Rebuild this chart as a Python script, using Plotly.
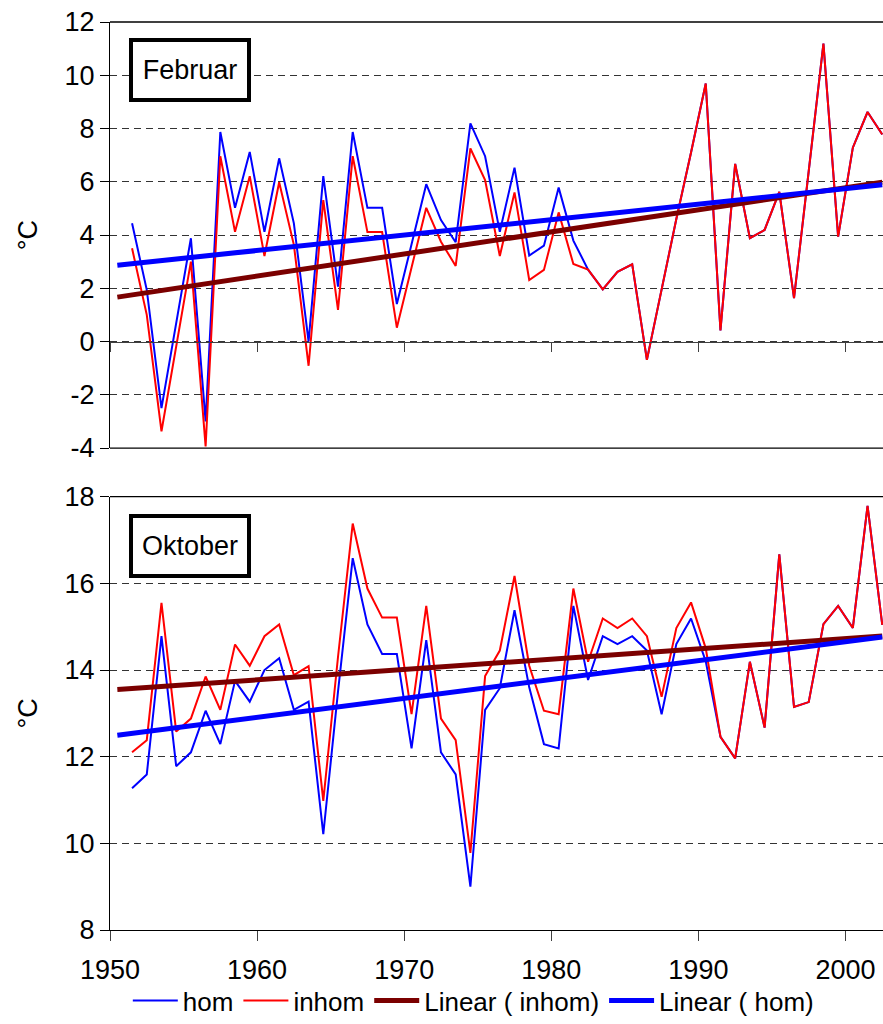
import numpy as np
import plotly.graph_objects as go

years = list(range(1951, 2003))

feb_hom = [4.44, 1.94, -2.50, 0.70, 3.88, -3.00, 7.87, 5.02, 7.12, 4.12,
           6.88, 4.44, 0.00, 6.21, 2.06, 7.87, 5.02, 5.02, 1.41, 3.65,
           5.91, 4.56, 3.73, 8.19, 6.96, 4.12, 6.53, 3.23, 3.60, 5.78,
           3.79, 2.70, 1.96, 2.62, 2.90, -0.69, 2.00, 4.60, 7.10, 9.69,
           0.42, 6.67, 3.88, 4.19, 5.62, 1.63, 6.40, 11.19, 3.94, 7.28,
           8.62, 7.78]
feb_inhom = [3.50, 1.00, -3.37, -0.20, 3.00, -3.94, 6.96, 4.12, 6.21, 3.21,
             5.98, 3.63, -0.91, 5.31, 1.19, 6.96, 4.11, 4.11, 0.52, 2.78,
             5.02, 3.75, 2.84, 7.25, 6.06, 3.21, 5.60, 2.31, 2.69, 4.85,
             2.91, 2.70, 1.96, 2.62, 2.90, -0.69, 2.00, 4.60, 7.10, 9.69,
             0.42, 6.67, 3.88, 4.19, 5.62, 1.63, 6.40, 11.19, 3.94, 7.28,
             8.62, 7.78]
oct_hom = [11.27, 11.59, 14.78, 11.78, 12.10, 13.06, 12.29, 13.75, 13.27, 14.00,
           14.27, 13.08, 13.27, 10.21, 13.50, 16.58, 15.05, 14.37, 14.37, 12.19,
           14.69, 12.10, 11.59, 9.00, 13.08, 13.58, 15.38, 13.60, 12.29, 12.19,
           15.48, 13.77, 14.78, 14.60, 14.78, 14.45, 12.98, 14.60, 15.19, 14.20,
           12.46, 11.96, 14.19, 12.67, 16.67, 13.15, 13.26, 15.06, 15.48, 14.97,
           17.79, 15.04]
oct_inhom = [12.10, 12.38, 15.55, 12.58, 12.88, 13.85, 13.08, 14.59, 14.10, 14.78,
             15.05, 13.88, 14.09, 10.98, 14.30, 17.38, 15.88, 15.21, 15.21, 12.98,
             15.48, 12.88, 12.38, 9.78, 13.86, 14.45, 16.17, 14.10, 13.06, 12.98,
             15.88, 14.19, 15.19, 14.97, 15.19, 14.78, 13.38, 14.97, 15.56, 14.50,
             12.46, 11.96, 14.19, 12.67, 16.67, 13.15, 13.26, 15.06, 15.48, 14.97,
             17.79, 15.04]

tick_labels = ["1950", "1960", "1970", "1980", "1990", "2000"]
feb_yticks = ["-4", "-2", "0", "2", "4", "6", "8", "10", "12"]
oct_yticks = ["8", "10", "12", "14", "16", "18"]
panel_titles = ["Februar", "Oktober"]
series_names = ["hom", "inhom", "Linear ( inhom)", "Linear ( hom)"]
y_label = "°C"

FONT = "Liberation Sans, Arial, sans-serif"
FS = 27
BLUE = "#0000FF"
RED = "#FF0000"
BROWN = "#7B0000"

yr = np.array(years, dtype=float)
trend_x = np.array([yr[0] - 1, yr[-1]])

def trend(vals):
    k, d = np.polyfit(yr, np.array(vals), 1)
    return k * trend_x + d

fig = go.Figure()

panels = [
    ("x", "y", feb_hom, feb_inhom, True),
    ("x2", "y2", oct_hom, oct_inhom, False),
]
for xa, ya, hom, inhom, leg in panels:
    fig.add_trace(go.Scatter(x=years, y=hom, mode="lines", name=series_names[0],
                             line=dict(color=BLUE, width=2), xaxis=xa, yaxis=ya,
                             showlegend=leg))
    fig.add_trace(go.Scatter(x=years, y=inhom, mode="lines", name=series_names[1],
                             line=dict(color=RED, width=2), xaxis=xa, yaxis=ya,
                             showlegend=leg))
    fig.add_trace(go.Scatter(x=trend_x, y=trend(inhom), mode="lines", name=series_names[2],
                             line=dict(color=BROWN, width=5), xaxis=xa, yaxis=ya,
                             showlegend=leg))
    fig.add_trace(go.Scatter(x=trend_x, y=trend(hom), mode="lines", name=series_names[3],
                             line=dict(color=BLUE, width=5), xaxis=xa, yaxis=ya,
                             showlegend=leg))

top_dom = [0.5308, 1.0]
bot_dom = [0.0, 0.4772]
top_range = [float(feb_yticks[0]), float(feb_yticks[-1])]
bot_range = [float(oct_yticks[0]), float(oct_yticks[-1])]
zero_pos = top_dom[0] + (0 - top_range[0]) / (top_range[1] - top_range[0]) * (top_dom[1] - top_dom[0])

tickvals = [int(t) - 0.5 for t in tick_labels]
xrange = [1949.5, 2002.05]

common_y = dict(showline=True, linecolor="black", linewidth=1.3, ticks="outside",
                ticklen=9, tickcolor="black", tickwidth=1.3, showgrid=True,
                gridcolor="#333333", gridwidth=1, griddash="7px,5px", zeroline=False,
                tickmode="array",
                tickfont=dict(family=FONT, size=FS, color="black"),
                title=dict(text=y_label, font=dict(family=FONT, size=FS, color="black"),
                           standoff=18))

fig.update_layout(
    width=883, height=1024,
    margin=dict(l=110, r=0, t=22, b=94, autoexpand=False),
    paper_bgcolor="white", plot_bgcolor="white",
    font=dict(family=FONT, size=FS, color="black"),
    xaxis=dict(domain=[0, 1], range=xrange, anchor="free", position=zero_pos,
               showline=True, linecolor="#404040", linewidth=1.3,
               tickmode="array", tickvals=tickvals, ticktext=tick_labels,
               showticklabels=False, ticks="outside", ticklen=9, tickcolor="#404040",
               tickwidth=1.3, showgrid=False, zeroline=False),
    xaxis2=dict(domain=[0, 1], range=xrange, anchor="y2",
                showline=True, linecolor="black", linewidth=1.3,
                tickmode="array", tickvals=tickvals, ticktext=tick_labels,
                ticks="outside", ticklen=10, tickcolor="#404040", tickwidth=1.3,
                ticklabelstandoff=5,
                tickfont=dict(family=FONT, size=FS, color="black"),
                showgrid=False, zeroline=False),
    yaxis=dict(domain=top_dom, range=top_range, anchor="x",
               tickvals=[float(t) for t in feb_yticks], ticktext=feb_yticks, **common_y),
    yaxis2=dict(domain=bot_dom, range=bot_range, anchor="x2",
                tickvals=[float(t) for t in oct_yticks], ticktext=oct_yticks, **common_y),
    legend=dict(orientation="h", x=0.47, xanchor="center", xref="paper",
                y=-0.008, yanchor="bottom", yref="container",
                font=dict(family=FONT, size=26, color="black"),
                itemwidth=45, tracegroupgap=0, bgcolor="rgba(0,0,0,0)"),
    showlegend=True,
)

# panel borders (top and bottom edges of the plot areas)
for xr, yr_ref, ys in [("x domain", "y domain", [0, 1]), ("x2 domain", "y2 domain", [1])]:
    for yv in ys:
        fig.add_shape(type="line", xref=xr, yref=yr_ref, x0=0, x1=1, y0=yv, y1=yv,
                      line=dict(color="black", width=1.3), layer="above")

# panel title boxes
for title, xr, yr_ref, yy in [(panel_titles[0], "x domain", "y domain", 0.888),
                              (panel_titles[1], "x2 domain", "y2 domain", 0.886)]:
    fig.add_annotation(text=title, xref=xr, yref=yr_ref, x=0.103, y=yy,
                       xanchor="center", yanchor="middle", showarrow=False,
                       font=dict(family=FONT, size=FS, color="black"),
                       bordercolor="black", borderwidth=4, borderpad=2,
                       bgcolor="white", width=110, height=52)

fig.write_html("out.html")
